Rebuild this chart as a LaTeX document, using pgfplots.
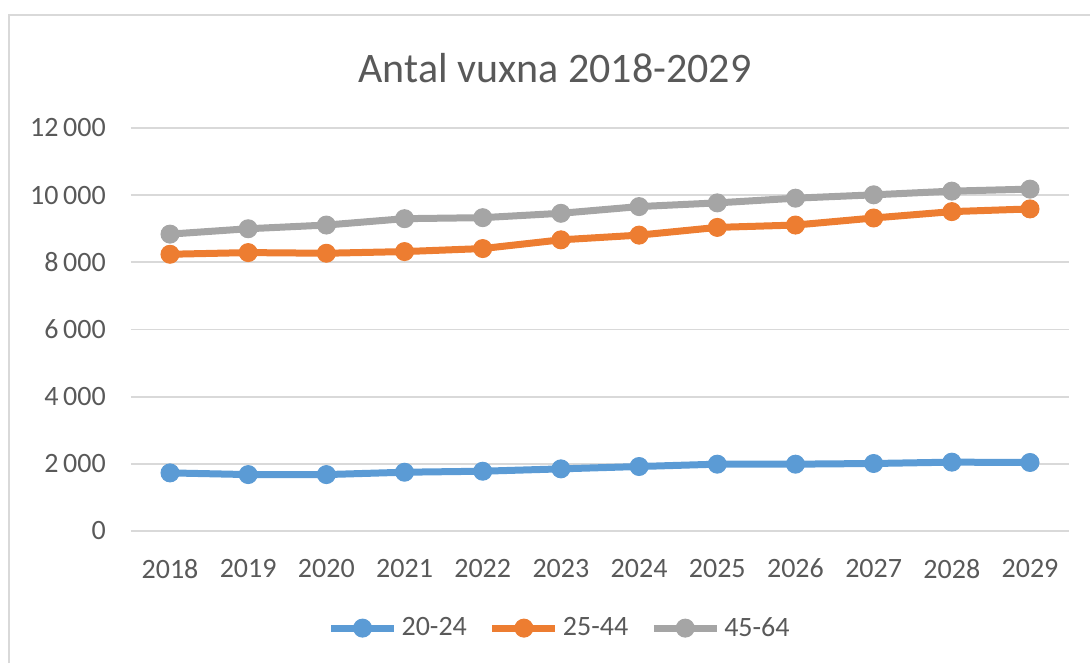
\documentclass[border=0pt]{standalone}
\usepackage{pgfplots}
\pgfplotsset{compat=1.18}
\usepackage{fontspec}
\setmainfont{Carlito}
\definecolor{cblue}{HTML}{5B9BD5}
\definecolor{corange}{HTML}{ED7D31}
\definecolor{cgray}{HTML}{A5A5A5}
\definecolor{gridc}{HTML}{D9D9D9}
\definecolor{textc}{HTML}{595959}
\begin{document}
\begin{tikzpicture}[x=1pt,y=1pt]
\path[use as bounding box] (0,0) rectangle (545,331.5);
\draw[color=gridc, line width=1pt] (4.5,0) -- (4.5,324) -- (545,324);
\node[text=textc, font=\fontsize{21}{25}\selectfont] at (277.5,297.5) {Antal vuxna 2018-2029};
\begin{axis}[
  at={(65.45pt,66pt)}, anchor=south west,
  scale only axis, width=469.1pt, height=201.5pt,
  xmin=-0.5, xmax=11.5, ymin=0, ymax=12000,
  xtick={0,1,2,3,4,5,6,7,8,9,10,11},
  xticklabels={2018,2019,2020,2021,2022,2023,2024,2025,2026,2027,2028,2029},
  ytick={0,2000,4000,6000,8000,10000,12000},
  scaled y ticks=false,
  axis line style={draw=none},
  major tick length=0pt,
  ymajorgrids, grid style={gridc, line width=0.9pt},
  tick label style={text=textc, font=\fontsize{14}{16}\selectfont},
  yticklabel style={/pgf/number format/.cd, 1000 sep={\,}, assume math mode=true, /tikz/.cd, xshift=-9pt},
  xticklabel style={yshift=-10.5pt},
  legend columns=3,
  legend style={at={(0.458,-0.241)}, anchor=center, draw=none, fill=none,
    font=\fontsize{14}{16}\selectfont, text=textc,
    /tikz/every even column/.append style={column sep=9pt},
    inner sep=0pt},
  legend image code/.code={\draw[mark repeat=2,mark phase=2] plot coordinates {(0pt,0pt)(15.75pt,0pt)(31.5pt,0pt)};},
  every axis plot/.append style={line width=3.5pt, mark=*, mark size=4.5pt, mark options={solid, line width=0.5pt}},
]
\addplot[color=cblue] coordinates {(0,1730)(1,1680)(2,1680)(3,1750)(4,1780)(5,1850)(6,1920)(7,1990)(8,1990)(9,2010)(10,2050)(11,2040)};
\addlegendentry{20-24}
\addplot[color=corange] coordinates {(0,8240)(1,8290)(2,8270)(3,8320)(4,8410)(5,8670)(6,8810)(7,9040)(8,9110)(9,9320)(10,9510)(11,9590)};
\addlegendentry{25-44}
\addplot[color=cgray] coordinates {(0,8840)(1,9000)(2,9110)(3,9300)(4,9330)(5,9460)(6,9660)(7,9770)(8,9910)(9,10010)(10,10120)(11,10180)};
\addlegendentry{45-64}
\end{axis}
\end{tikzpicture}
\end{document}
